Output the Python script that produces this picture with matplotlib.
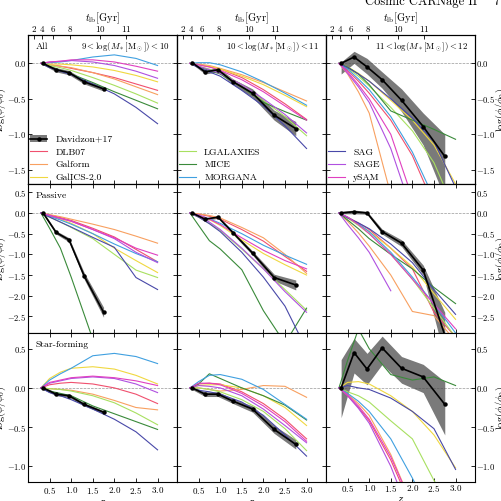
import numpy as np
import matplotlib
matplotlib.use('Agg')
import matplotlib.pyplot as plt
from matplotlib.lines import Line2D
from matplotlib.patches import Patch
from matplotlib.ticker import FuncFormatter

plt.rcParams['font.family'] = 'serif'
plt.rcParams['font.serif'] = ['cmr10']
plt.rcParams['mathtext.fontset'] = 'cm'
plt.rcParams['axes.formatter.use_mathtext'] = True

# models and colours
models = ['DLB07', 'Galform', 'GalICS-2.0', 'LGALAXIES', 'MICE', 'MORGANA', 'SAG', 'SAGE', 'ySAM']
colors = ['#f0506e', '#f8a060', '#f0d840', '#a8e060', '#3a8a3a', '#40a0e0', '#4848a8', '#b050e0', '#e040c0']

z_mod = [0.3, 0.5, 0.75, 1.0, 1.5, 2.0, 2.5, 3.0]
z_obs = [0.35, 0.65, 0.95, 1.3, 1.75, 2.25, 2.75]

# lookback time ticks (Gyr) and where they sit in z
t_lb = [2, 4, 6, 8, 10, 11]
z_lb = [0.13, 0.33, 0.59, 0.97, 1.67, 2.28]

nan = np.nan

# ---- All galaxies ----
all_9_10 = {
    'DLB07': [0, -0.02, -0.04, -0.07, -0.13, -0.20, -0.29, -0.38],
    'Galform': [0, -0.02, -0.04, -0.06, -0.13, -0.22, -0.33, -0.44],
    'GalICS-2.0': [0, -0.01, -0.01, -0.02, -0.05, -0.10, -0.17, -0.26],
    'LGALAXIES': [0, -0.03, -0.06, -0.10, -0.20, -0.31, -0.43, -0.56],
    'MICE': [0, -0.05, -0.10, -0.15, -0.27, -0.40, -0.52, -0.64],
    'MORGANA': [0, 0.01, 0.02, 0.04, 0.09, 0.12, 0.07, -0.03],
    'SAG': [0, -0.06, -0.11, -0.16, -0.29, -0.43, -0.62, -0.85],
    'SAGE': [0, 0.02, 0.03, 0.04, 0.02, -0.03, -0.11, -0.21],
    'ySAM': [0, 0.02, 0.03, 0.05, 0.05, 0.02, -0.04, -0.11],
}
all_10_11 = {
    'DLB07': [0, -0.02, -0.05, -0.08, -0.20, -0.37, -0.57, -0.79],
    'Galform': [0, -0.01, -0.03, -0.07, -0.16, -0.27, -0.40, -0.53],
    'GalICS-2.0': [0, -0.02, -0.04, -0.08, -0.18, -0.30, -0.45, -0.61],
    'LGALAXIES': [0, -0.04, -0.08, -0.13, -0.30, -0.52, -0.75, -1.02],
    'MICE': [0, -0.05, -0.10, -0.15, -0.33, -0.55, -0.68, -0.80],
    'MORGANA': [0, 0.01, 0.01, -0.02, -0.12, -0.26, -0.42, -0.59],
    'SAG': [0, -0.06, -0.12, -0.18, -0.38, -0.60, -0.88, -1.20],
    'SAGE': [0, -0.04, -0.09, -0.14, -0.30, -0.50, -0.72, -0.98],
    'ySAM': [0, -0.02, -0.05, -0.10, -0.23, -0.40, -0.60, -0.80],
}
all_11_12 = {
    'DLB07': [0, -0.10, -0.25, -0.42, -0.80, -1.30, -2.00, -2.70],
    'Galform': [0, -0.15, -0.40, -0.70, -1.85, -3.00, -4.00, -5.00],
    'GalICS-2.0': [0, -0.05, -0.14, -0.25, -0.52, -0.80, -1.15, -1.70],
    'LGALAXIES': [0, -0.07, -0.18, -0.32, -0.62, -0.95, -1.40, -2.10],
    'MICE': [0, -0.05, -0.15, -0.30, -0.67, -0.80, -0.93, -1.07],
    'MORGANA': [0, -0.08, -0.22, -0.37, -0.75, -1.25, -1.90, -2.60],
    'SAG': [0, -0.06, -0.15, -0.25, -0.50, -0.77, -1.10, -1.75],
    'SAGE': [0, -0.14, -0.33, -0.55, -1.20, -2.10, -3.00, -3.80],
    'ySAM': [0, -0.12, -0.30, -0.50, -1.00, -1.90, -2.80, -3.50],
}

# ---- Passive ----
pas_9_10 = {
    'DLB07': [0, -0.05, -0.11, -0.18, -0.37, -0.58, -0.88, -1.18],
    'Galform': [0, -0.04, -0.09, -0.15, -0.27, -0.40, -0.56, -0.73],
    'GalICS-2.0': [0, -0.07, -0.15, -0.25, -0.50, -0.85, -1.15, -1.44],
    'LGALAXIES': [0, -0.10, -0.22, -0.35, -0.62, -1.00, -1.38, -1.56],
    'MICE': [0, -0.37, -0.85, -1.55, -3.05, -4.50, -5.50, -6.50],
    'MORGANA': [0, -0.08, -0.17, -0.27, -0.50, -0.75, -0.98, -1.18],
    'SAG': [0, -0.10, -0.22, -0.34, -0.59, -0.83, -1.56, -1.85],
    'SAGE': [0, -0.06, -0.13, -0.20, -0.40, -0.62, -0.95, -1.20],
    'ySAM': [0, -0.06, -0.13, -0.20, -0.40, -0.60, -0.85, -1.02],
}
pas_10_11 = {
    'DLB07': [0, -0.03, -0.08, -0.15, -0.40, -0.68, -1.05, -1.41],
    'Galform': [0, -0.02, -0.06, -0.12, -0.35, -0.60, -1.00, -1.46],
    'GalICS-2.0': [0, -0.06, -0.16, -0.30, -0.65, -0.98, -1.25, -1.50],
    'LGALAXIES': [0, -0.10, -0.25, -0.42, -0.87, -1.35, -1.85, -2.35],
    'MICE': [0, -0.30, -0.67, -0.87, -1.37, -2.36, -3.15, -2.30],
    'MORGANA': [0, -0.05, -0.14, -0.25, -0.50, -0.78, -1.02, -1.24],
    'SAG': [0, -0.10, -0.26, -0.45, -0.95, -1.55, -2.25, -3.30],
    'SAGE': [0, -0.08, -0.22, -0.40, -0.85, -1.35, -1.90, -2.40],
    'ySAM': [0, -0.05, -0.15, -0.28, -0.60, -0.90, -1.15, -1.35],
}
pas_11_12 = {
    'DLB07': [0, -0.10, -0.24, -0.40, -0.85, -1.35, -2.40, -3.00],
    'Galform': [0, -0.20, -0.48, -0.80, -1.50, -2.38, -2.48, -3.10],
    'GalICS-2.0': [0, -0.12, -0.28, -0.45, -0.85, -1.30, -1.95, -2.57],
    'LGALAXIES': [0, -0.12, -0.30, -0.50, -1.00, -1.60, -2.30, -3.00],
    'MICE': [0, -0.17, -0.38, -0.62, -1.00, -1.35, -1.80, -2.19],
    'MORGANA': [0, -0.10, -0.26, -0.45, -0.95, -1.55, -2.20, -2.90],
    'SAG': [0, -0.12, -0.24, -0.38, -0.75, -1.20, -1.85, -2.45],
    'SAGE': [0, -0.28, -0.60, -0.95, -1.88, nan, nan, nan],
    'ySAM': [0, -0.10, -0.28, -0.50, -1.00, -1.60, -2.20, -2.80],
}

# ---- Star-forming ----
sf_9_10 = {
    'DLB07': [0, 0.04, 0.06, 0.07, 0.05, 0.00, -0.08, -0.20],
    'Galform': [0, -0.01, -0.02, -0.03, -0.08, -0.16, -0.25, -0.28],
    'GalICS-2.0': [0, 0.12, 0.20, 0.25, 0.27, 0.24, 0.16, 0.05],
    'LGALAXIES': [0, -0.01, -0.02, -0.04, -0.10, -0.19, -0.32, -0.47],
    'MICE': [0, -0.04, -0.07, -0.10, -0.23, -0.33, -0.43, -0.53],
    'MORGANA': [0, 0.10, 0.18, 0.25, 0.41, 0.44, 0.40, 0.31],
    'SAG': [0, -0.06, -0.10, -0.15, -0.27, -0.40, -0.56, -0.79],
    'SAGE': [0, 0.06, 0.09, 0.12, 0.14, 0.12, 0.05, -0.06],
    'ySAM': [0, 0.07, 0.10, 0.13, 0.15, 0.13, 0.09, 0.03],
}
sf_10_11 = {
    'DLB07': [0, 0.05, 0.06, 0.05, -0.05, -0.20, -0.40, -0.65],
    'Galform': [0, 0.00, -0.02, -0.04, -0.02, 0.03, 0.02, -0.12],
    'GalICS-2.0': [0, 0.03, 0.04, 0.04, 0.00, -0.10, -0.25, -0.48],
    'LGALAXIES': [0, 0.00, -0.02, -0.05, -0.15, -0.30, -0.52, -0.80],
    'MICE': [0, 0.05, 0.18, 0.12, 0.00, -0.10, -0.22, -0.41],
    'MORGANA': [0, 0.08, 0.16, 0.17, 0.11, -0.02, -0.21, -0.40],
    'SAG': [0, -0.03, -0.05, -0.08, -0.18, -0.35, -0.60, -0.87],
    'SAGE': [0, 0.03, 0.02, 0.00, -0.10, -0.27, -0.48, -0.70],
    'ySAM': [0, 0.06, 0.06, 0.04, -0.07, -0.23, -0.43, -0.68],
}
sf_11_12 = {
    'DLB07': [0, -0.10, -0.25, -0.42, -0.92, -1.55, -2.30, -3.00],
    'Galform': [0, -0.08, -0.20, -0.35, -0.85, -1.50, -2.20, -3.00],
    'GalICS-2.0': [0, 0.07, 0.08, 0.05, -0.10, -0.30, -0.60, -1.02],
    'LGALAXIES': [0, -0.05, -0.10, -0.18, -0.42, -0.65, -1.18, -1.60],
    'MICE': [0, 0.35, 0.75, 0.50, 0.17, 0.10, 0.14, 0.03],
    'MORGANA': [0, -0.07, -0.17, -0.30, -0.65, -1.15, -1.70, -2.30],
    'SAG': [0, 0.03, 0.00, -0.02, -0.13, -0.30, -0.52, -1.04],
    'SAGE': [0, -0.10, -0.26, -0.45, -1.00, -1.70, -2.40, -3.10],
    'ySAM': [0, -0.09, -0.23, -0.40, -0.88, -1.50, -2.20, -2.90],
}

# ---- Davidzon+17 observations (value, lower, upper) ----
obs_all_9_10 = [0.0, -0.09, -0.13, -0.26, -0.36]
err_all_9_10 = [0.02, 0.03, 0.03, 0.03, 0.03]
obs_all_10_11 = [0.01, -0.12, -0.09, -0.26, -0.42, -0.73, -0.92]
err_all_10_11 = [0.02, 0.03, 0.03, 0.04, 0.06, 0.07, 0.10]
obs_all_11_12 = [0.0, 0.09, -0.05, -0.23, -0.52, -0.89, -1.31]
lo_all_11_12 = [-0.15, 0.0, -0.15, -0.35, -0.68, -1.15, -1.90]
hi_all_11_12 = [0.02, 0.17, 0.07, -0.12, -0.36, -0.70, -1.00]

obs_pas_9_10 = [0.0, -0.47, -0.65, -1.52, -2.40]
err_pas_9_10 = [0.03, 0.04, 0.05, 0.08, 0.12]
obs_pas_10_11 = [0.0, -0.15, -0.10, -0.48, -0.97, -1.56, -1.74]
err_pas_10_11 = [0.03, 0.03, 0.03, 0.04, 0.05, 0.08, 0.12]
obs_pas_11_12 = [0.0, 0.03, 0.0, -0.45, -0.73, -1.38, -2.95]
lo_pas_11_12 = [-0.02, -0.02, -0.03, -0.51, -0.81, -1.50, -3.50]
hi_pas_11_12 = [0.04, 0.07, 0.04, -0.39, -0.65, -1.26, -2.40]

obs_sf_9_10 = [0.0, -0.08, -0.10, -0.21, -0.31]
err_sf_9_10 = [0.02, 0.02, 0.02, 0.02, 0.02]
obs_sf_10_11 = [0.0, -0.08, -0.08, -0.17, -0.27, -0.53, -0.72]
err_sf_10_11 = [0.02, 0.03, 0.03, 0.03, 0.04, 0.05, 0.06]
obs_sf_11_12 = [0.0, 0.45, 0.24, 0.51, 0.25, 0.14, -0.21]
lo_sf_11_12 = [-0.38, 0.19, 0.04, 0.30, 0.06, -0.06, -0.60]
hi_sf_11_12 = [0.36, 0.63, 0.44, 0.66, 0.40, 0.30, 0.08]


def sym(v, e):
    v = np.array(v)
    e = np.array(e)
    return v, v - e, v + e


mod_panels = [[all_9_10, all_10_11, all_11_12],
              [pas_9_10, pas_10_11, pas_11_12],
              [sf_9_10, sf_10_11, sf_11_12]]
obs_panels = [[sym(obs_all_9_10, err_all_9_10), sym(obs_all_10_11, err_all_10_11),
               (obs_all_11_12, lo_all_11_12, hi_all_11_12)],
              [sym(obs_pas_9_10, err_pas_9_10), sym(obs_pas_10_11, err_pas_10_11),
               (obs_pas_11_12, lo_pas_11_12, hi_pas_11_12)],
              [sym(obs_sf_9_10, err_sf_9_10), sym(obs_sf_10_11, err_sf_10_11),
               (obs_sf_11_12, lo_sf_11_12, hi_sf_11_12)]]

row_names = ['All', 'Passive', 'Star-forming']
mass_labels = [r'$9<\log(M_*[{\rm M_\odot}])<10$',
               r'$10<\log(M_*[{\rm M_\odot}])<11$',
               r'$11<\log(M_*[{\rm M_\odot}])<12$']
ylims = [(-1.7, 0.4), (-2.9, 0.7), (-1.2, 0.7)]
yticks = [[0.0, -0.5, -1.0, -1.5],
          [0.5, 0.0, -0.5, -1.0, -1.5, -2.0, -2.5],
          [0.5, 0.0, -0.5, -1.0]]
legend_groups = [['DLB07', 'Galform', 'GalICS-2.0'],
                 ['LGALAXIES', 'MICE', 'MORGANA'],
                 ['SAG', 'SAGE', 'ySAM']]

fmt = FuncFormatter(lambda v, p: r'$%.1f$' % v)

fig, axes = plt.subplots(3, 3, figsize=(5.01, 5.01), dpi=100, sharex=True)
fig.subplots_adjust(left=28 / 501, right=475 / 501, top=1 - 35 / 501,
                    bottom=1 - 482 / 501, wspace=0, hspace=0)

for r in range(3):
    for c in range(3):
        ax = axes[r, c]
        ax.axhline(0, color='0.6', ls='--', lw=0.5, zorder=0)
        vals, lo, hi = obs_panels[r][c]
        zo = z_obs[:len(vals)]
        ax.fill_between(zo, lo, hi, color='0.3', alpha=0.75, lw=0, zorder=1)
        for name, col in zip(models, colors):
            ax.plot(z_mod, mod_panels[r][c][name], color=col, lw=0.8, zorder=2)
        ax.plot(zo, vals, color='k', lw=1.2, marker='o', ms=2.2, zorder=3)

        ax.set_xlim(0, 3.45)
        ax.set_ylim(*ylims[r])
        ax.set_xticks([0.5, 1.0, 1.5, 2.0, 2.5, 3.0])
        ax.set_yticks(yticks[r])
        ax.xaxis.set_major_formatter(fmt)
        ax.yaxis.set_major_formatter(fmt)
        ax.tick_params(direction='in', top=(r > 0), right=True, labelsize=6.5,
                       length=3, width=0.6, pad=2)
        ax.tick_params(axis='y', labelsize=6.2)
        for s in ax.spines.values():
            s.set_linewidth(0.8)

        if c == 0:
            ax.tick_params(axis='y', pad=1.2)
            ax.set_ylabel(r'$\log(\phi/\phi_0)$', fontsize=7.5)
            ax.yaxis.set_label_coords(-0.135, 0.5)
        elif c == 1:
            ax.tick_params(labelleft=False)
        else:
            ax.tick_params(labelleft=False, labelright=True, pad=0.4)
            ax.yaxis.set_label_position('right')
            ax.set_ylabel(r'$\log(\phi/\phi_0)$', fontsize=7.5)
            ax.yaxis.set_label_coords(1.124, 0.5)
        if r == 2:
            ax.set_xlabel(r'$z$', fontsize=8, labelpad=1)

        if c == 0:
            ax.text(0.05, 0.92, row_names[r], transform=ax.transAxes,
                    fontsize=7, va='center', ha='left')

        if r == 0:
            ax.text(0.95, 0.92, mass_labels[c], transform=ax.transAxes,
                    fontsize=6.4, va='center', ha='right')
            tw = ax.twiny()
            tw.set_xlim(ax.get_xlim())
            tw.set_xticks(z_lb)
            tw.set_xticklabels([r'$%d$' % t for t in t_lb])
            tw.tick_params(direction='in', labelsize=6.5, length=3, width=0.6, pad=0.5)
            tw.set_xlabel(r'$t_{\rm lb}[{\rm Gyr}]$', fontsize=7.5, labelpad=2.5)

            handles = []
            labels = []
            if c == 0:
                handles.append((Patch(facecolor='0.3', alpha=0.75, lw=0),
                                Line2D([], [], color='k', lw=1.2, marker='o', ms=2.2)))
                labels.append('Davidzon+17')
            for name in legend_groups[c]:
                handles.append(Line2D([], [], color=colors[models.index(name)], lw=0.8))
                labels.append(name)
            ax.legend(handles, labels, loc='lower left', frameon=False, fontsize=7,
                      handlelength=1.8, handletextpad=0.8, labelspacing=0.4,
                      borderaxespad=-0.2)

fig.text(421 / 501, 0.997, 'Cosmic CARNage II', ha='center', va='center', fontsize=9)
fig.text(496 / 501, 0.997, '7', ha='center', va='center', fontsize=9)

fig.savefig('out.png', dpi=100)
